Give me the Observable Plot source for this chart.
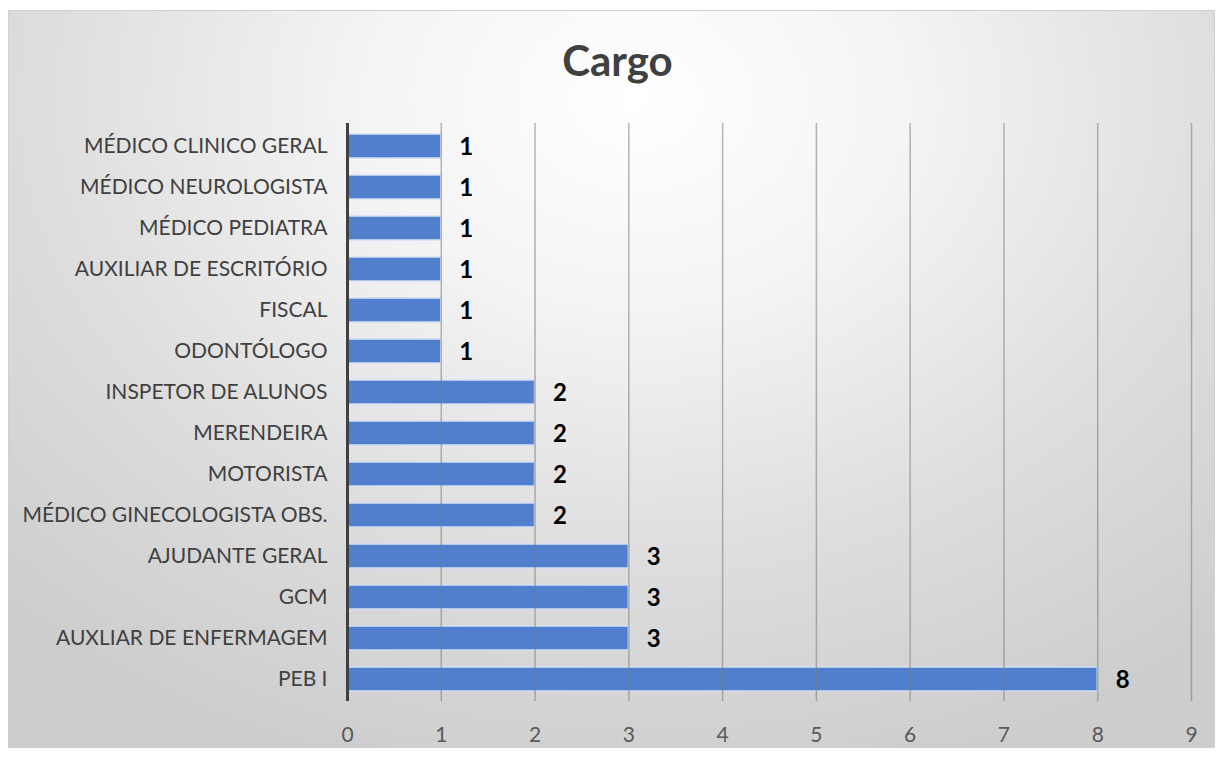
<!DOCTYPE html>
<html>
<head>
<meta charset="utf-8">
<script src="https://cdn.jsdelivr.net/npm/d3@7"></script>
<script src="https://cdn.jsdelivr.net/npm/@observablehq/plot@0.6"></script>
<style>
  html, body { margin: 0; padding: 0; background: #ffffff; }
  #frame {
    position: absolute; left: 8px; top: 10px; width: 1205px; height: 736px;
    border: 1px solid #d0d0d0;
    background: radial-gradient(ellipse 75% 95% at 52% 12%, #ffffff 0%, #f4f4f4 30%, #dedede 65%, #cdcdcd 100%);
  }
  #title {
    position: absolute; left: 0; top: 35px; width: 1235px; text-align: center;
    font-family: Lato, "Open Sans", sans-serif; font-weight: bold; font-size: 42px; color: #404040;
  }
  #chart { position: absolute; left: 0; top: 0; }
</style>
</head>
<body>
<div id="frame"></div>
<div id="title">Cargo</div>
<div id="chart"></div>
<script>
const categories = [
  "MÉDICO CLINICO GERAL",
  "MÉDICO NEUROLOGISTA",
  "MÉDICO PEDIATRA",
  "AUXILIAR DE ESCRITÓRIO",
  "FISCAL",
  "ODONTÓLOGO",
  "INSPETOR DE ALUNOS",
  "MERENDEIRA",
  "MOTORISTA",
  "MÉDICO GINECOLOGISTA OBS.",
  "AJUDANTE GERAL",
  "GCM",
  "AUXLIAR DE ENFERMAGEM",
  "PEB I"
];
const values = [1, 1, 1, 1, 1, 1, 2, 2, 2, 2, 3, 3, 3, 8];
const xTicks = [0, 1, 2, 3, 4, 5, 6, 7, 8, 9];

const data = categories.map((c, i) => ({cargo: c, n: values[i]}));
const grid = xTicks.filter(t => t > 0);

const chart = Plot.plot({
  width: 1220,
  height: 758,
  marginLeft: 347,
  marginRight: 29,
  marginTop: 123,
  marginBottom: 57,
  style: {background: "transparent", fontFamily: "Lato, 'Open Sans', sans-serif", fontSize: "21px", color: "#404040"},
  x: {domain: [0, 9], ticks: xTicks, tickSize: 0, tickPadding: 26, label: null},
  y: {domain: categories, padding: 0.42, paddingOuter: 0.21, tickSize: 0, tickPadding: 20, label: null},
  marks: [
    Plot.barX(data, {x: "n", y: "cargo", fill: "#5080cd", stroke: "#d3e0f4", strokeWidth: 1.5}),
    Plot.ruleX(grid, {stroke: "#7a7a7a", strokeWidth: 1.5, strokeOpacity: 0.55}),
    Plot.ruleX([0], {stroke: "#404040", strokeWidth: 3}),
    Plot.text(data, {x: "n", y: "cargo", text: d => String(d.n), textAnchor: "start", dx: 18, dy: 1, fontWeight: "bold", fontSize: 24, fill: "#000000"})
  ]
});
d3.select(chart).selectAll("g[aria-label^='x-axis'] text")
  .attr("font-size", null)
  .style("font-size", "21px")
  .style("fill", "#595959");
document.getElementById("chart").appendChild(chart);
</script>
</body>
</html>
